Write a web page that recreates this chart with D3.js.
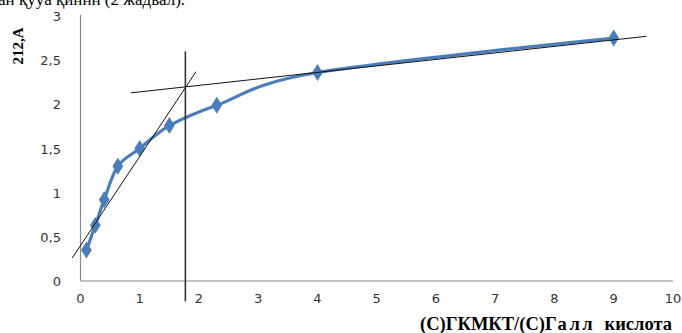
<!DOCTYPE html>
<html>
<head>
<meta charset="utf-8">
<script src="https://cdn.jsdelivr.net/npm/d3@7/dist/d3.min.js"></script>
<style>
  html, body { margin: 0; padding: 0; background: #fff; }
  svg { display: block; }
</style>
</head>
<body>
<script>
// ---- data ----
const xValues = [0.1, 0.25, 0.4, 0.63, 1.0, 1.5, 2.3, 4.0, 9.0];
const yValues = [0.35, 0.63, 0.92, 1.3, 1.5, 1.76, 1.99, 2.36, 2.75];
const xTicks = [0, 1, 2, 3, 4, 5, 6, 7, 8, 9, 10];
const yTicks = [0, 0.5, 1, 1.5, 2, 2.5, 3];
const tangent1 = [[-0.14, 0.26], [1.95, 2.37]];
const tangent2 = [[0.85, 2.13], [9.55, 2.77]];
const verticalLine = [[1.77, -0.23], [1.77, 2.6]];
const xTitle = ["(С)ГКМКТ/(С)", "Галл", "  кислота"];
const yTitle = "212,A";
const topText = "ан қуyа қиннн (2 жадвал).";

const W = 682, H = 333;
const svg = d3.select("body").append("svg").attr("width", W).attr("height", H);

const x = d3.scaleLinear().domain([0, 10]).range([80.5, 673]);
const y = d3.scaleLinear().domain([0, 3]).range([281, 16]);

// cut-off text line at top (partly outside the picture, as in the source)
svg.append("text").attr("x", -2).attr("y", 4.5)
  .attr("font-family", "Liberation Serif, serif").attr("font-size", 17)
  .attr("fill", "#000").text(topText);

// axes lines
svg.append("line").attr("x1", x(0)).attr("x2", x(0)).attr("y1", y(3) - 1).attr("y2", y(0))
  .attr("stroke", "#8a8a8a").attr("stroke-width", 1.2);
svg.append("line").attr("x1", x(0)).attr("x2", x(10)).attr("y1", y(0)).attr("y2", y(0))
  .attr("stroke", "#8a8a8a").attr("stroke-width", 1.2);

const fmt = v => String(v).replace(".", ",");
svg.selectAll(".yt").data(yTicks).enter().append("text")
  .attr("x", 61).attr("y", d => y(d) + 5)
  .attr("text-anchor", "end")
  .attr("font-family", "DejaVu Sans, sans-serif").attr("font-size", 13)
  .attr("fill", "#333").text(fmt);
svg.selectAll(".xt").data(xTicks).enter().append("text")
  .attr("x", d => x(d)).attr("y", 303)
  .attr("text-anchor", "middle")
  .attr("font-family", "DejaVu Sans, sans-serif").attr("font-size", 13)
  .attr("fill", "#333").text(d => d);

// titles
svg.append("text")
  .attr("transform", "translate(23,46) rotate(-90)")
  .attr("text-anchor", "middle")
  .attr("font-family", "Liberation Serif, serif").attr("font-weight", "bold").attr("font-size", 15)
  .attr("fill", "#000").text(yTitle);

const xt = svg.append("text").attr("x", 672).attr("y", 330)
  .attr("text-anchor", "end")
  .attr("font-family", "Liberation Serif, serif").attr("font-weight", "bold").attr("font-size", 18.5)
  .attr("fill", "#000").attr("xml:space", "preserve").style("white-space", "pre");
xt.append("tspan").text(xTitle[0]);
xt.append("tspan").attr("letter-spacing", 2.5).text(xTitle[1]);
xt.append("tspan").text(xTitle[2]);

// data series (smoothed)
const pts = xValues.map((v, i) => [v, yValues[i]]);
const line = d3.line().x(d => x(d[0])).y(d => y(d[1])).curve(d3.curveCatmullRom.alpha(0));
svg.append("path").datum(pts).attr("d", line)
  .attr("fill", "none").attr("stroke", "#4a7ebb").attr("stroke-width", 3.2)
  .attr("stroke-linejoin", "round");

svg.selectAll(".mk").data(pts).enter().append("path")
  .attr("d", d3.symbol().type(d3.symbolDiamond).size(75))
  .attr("transform", d => `translate(${x(d[0])},${y(d[1])}) scale(1.15,1.05)`)
  .attr("fill", "#4a7ebb");

// construction lines
const seg = d3.line().x(d => x(d[0])).y(d => y(d[1]));
svg.append("path").attr("d", seg(tangent1)).attr("stroke", "#111").attr("stroke-width", 1).attr("fill", "none");
svg.append("path").attr("d", seg(tangent2)).attr("stroke", "#111").attr("stroke-width", 1).attr("fill", "none");
svg.append("path").attr("d", seg(verticalLine)).attr("stroke", "#333").attr("stroke-width", 1.6).attr("fill", "none");
</script>
</body>
</html>
